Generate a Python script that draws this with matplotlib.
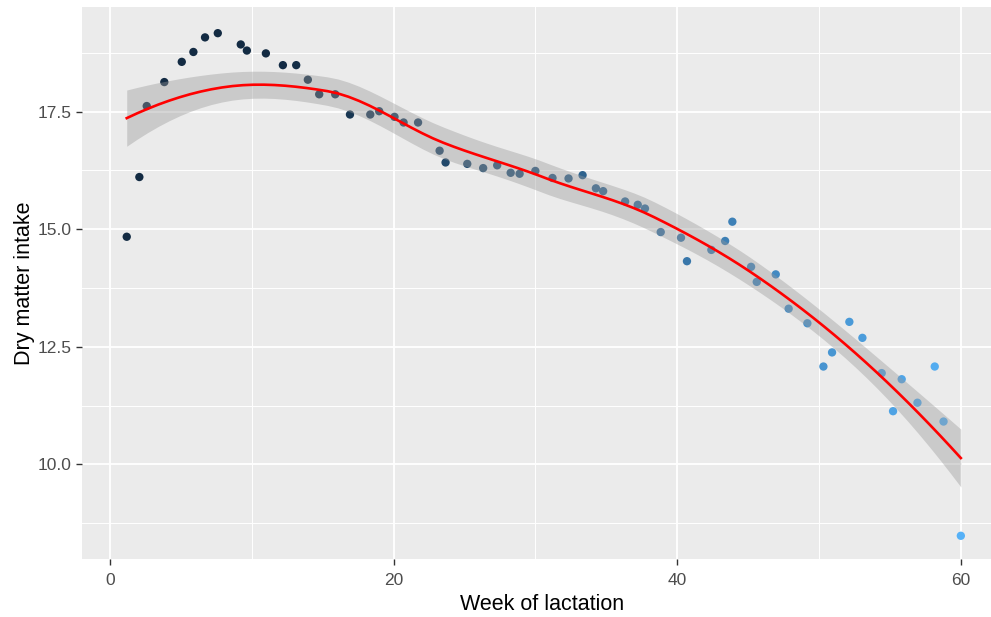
import numpy as np
import matplotlib
matplotlib.use("Agg")
import matplotlib.pyplot as plt
from matplotlib.colors import ListedColormap, Normalize

# Weekly mean dry matter intake over the lactation
week = [1.18, 2.07, 2.59, 3.83, 5.06, 5.88, 6.70, 7.60, 9.22, 9.65,
        10.99, 12.19, 13.13, 13.95, 14.75, 15.88, 16.92, 18.35, 18.98, 20.06,
        20.70, 21.72, 23.24, 23.66, 25.19, 26.31, 27.30, 28.25, 28.88, 29.99,
        31.20, 32.33, 33.32, 34.26, 34.77, 36.32, 37.21, 37.72, 38.83, 40.26,
        40.68, 42.40, 43.37, 43.88, 45.20, 45.60, 46.94, 47.85, 49.17, 50.30,
        50.91, 52.13, 53.05, 54.41, 55.21, 55.82, 56.93, 58.15, 58.77, 59.99]
dmi = [14.84, 16.11, 17.62, 18.13, 18.56, 18.77, 19.08, 19.17, 18.93, 18.80,
       18.74, 18.49, 18.49, 18.18, 17.87, 17.87, 17.44, 17.44, 17.51, 17.39,
       17.27, 17.27, 16.67, 16.42, 16.39, 16.30, 16.36, 16.20, 16.18, 16.24,
       16.09, 16.08, 16.15, 15.87, 15.81, 15.59, 15.52, 15.44, 14.94, 14.82,
       14.32, 14.56, 14.75, 15.16, 14.20, 13.88, 14.04, 13.31, 13.00, 12.08,
       12.38, 13.03, 12.69, 11.94, 11.13, 11.81, 11.31, 12.08, 10.91, 8.48]

x_major = [0, 20, 40, 60]
x_minor = [10, 30, 50]
y_major = [10.0, 12.5, 15.0, 17.5]
y_minor = [8.75, 11.25, 13.75, 16.25, 18.75]

x = np.asarray(week, dtype=float)
y = np.asarray(dmi, dtype=float)

SPAN = 0.75


def local_quadratic(xd, xq, span=SPAN):
    """Value and slope operators of the tricube-weighted local quadratic fit."""
    n = len(xd)
    q = int(np.floor(n * span))
    vals, slopes = [], []
    for x0 in np.atleast_1d(xq):
        d = np.abs(xd - x0)
        h = np.sort(d)[q - 1]
        u = np.clip(d / h, 0, 1)
        w = (1 - u ** 3) ** 3
        X = np.column_stack([np.ones(n), xd - x0, (xd - x0) ** 2])
        XtW = X.T * w
        op = np.linalg.solve(XtW @ X, XtW)
        vals.append(op[0])
        slopes.append(op[1])
    return np.array(vals), np.array(slopes)


def kd_vertices(xd, span=SPAN, cell=0.2):
    """Cell boundaries of the 1-D k-d tree used for interpolated loess surfaces."""
    n = len(xd)
    fc = int(np.floor(n * span * cell))
    srt = np.sort(xd)
    lo, hi = srt[0], srt[-1]
    mu = 0.005 * (hi - lo)
    verts = [lo - mu, hi + mu]

    def split(pts):
        if len(pts) <= fc:
            return
        m = (len(pts) + 1) // 2
        verts.append(0.5 * (pts[m - 1] + pts[m]))
        split(pts[:m])
        split(pts[m:])

    split(srt)
    return np.array(sorted(verts))


def interpolated_operator(xd, xq):
    verts = kd_vertices(xd)
    V, S = local_quadratic(xd, verts)
    rows = []
    for q in np.atleast_1d(xq):
        i = int(np.clip(np.searchsorted(verts, q, side="right") - 1, 0, len(verts) - 2))
        h = verts[i + 1] - verts[i]
        t = (q - verts[i]) / h
        h00 = 2 * t ** 3 - 3 * t ** 2 + 1
        h10 = t ** 3 - 2 * t ** 2 + t
        h01 = -2 * t ** 3 + 3 * t ** 2
        h11 = t ** 3 - t ** 2
        rows.append(h00 * V[i] + h10 * h * S[i] + h01 * V[i + 1] + h11 * h * S[i + 1])
    return np.array(rows)


# Smooth with 95% confidence band
L_data = interpolated_operator(x, x)
resid = y - L_data @ y
M = np.eye(len(x)) - L_data
MtM = M.T @ M
delta1 = np.trace(MtM)
delta2 = np.trace(MtM @ MtM)
sigma = np.sqrt(np.sum(resid ** 2) / delta1)
df = delta1 ** 2 / delta2
z = 1.959963985
tq = z + (z ** 3 + z) / (4 * df) + (5 * z ** 5 + 16 * z ** 3 + 3 * z) / (96 * df ** 2)

xs = np.linspace(x.min(), x.max(), 80)
L_grid = interpolated_operator(x, xs)
fit = L_grid @ y
se = sigma * np.sqrt(np.sum(L_grid ** 2, axis=1))
lo, hi = fit - tq * se, fit + tq * se


# Lab-space gradient from dark navy to light blue
_M = np.array([[0.4124564, 0.3575761, 0.1804375],
               [0.2126729, 0.7151522, 0.0721750],
               [0.0193339, 0.1191920, 0.9503041]])
_WHITE = np.array([0.95047, 1.0, 1.08883])


def _srgb_to_lab(rgb):
    c = np.asarray(rgb, dtype=float)
    lin = np.where(c <= 0.04045, c / 12.92, ((c + 0.055) / 1.055) ** 2.4)
    xyz = _M @ lin / _WHITE
    e = 6 / 29
    f = np.where(xyz > e ** 3, np.cbrt(xyz), xyz / (3 * e ** 2) + 4 / 29)
    return np.array([116 * f[1] - 16, 500 * (f[0] - f[1]), 200 * (f[1] - f[2])])


def _lab_to_srgb(lab):
    L, a, b = lab
    fy = (L + 16) / 116
    f = np.array([fy + a / 500, fy, fy - b / 200])
    e = 6 / 29
    xyz = np.where(f > e, f ** 3, 3 * e ** 2 * (f - 4 / 29)) * _WHITE
    lin = np.clip(np.linalg.solve(_M, xyz), 0, 1)
    c = np.where(lin <= 0.0031308, 12.92 * lin, 1.055 * lin ** (1 / 2.4) - 0.055)
    return np.clip(c, 0, 1)


lab_lo = _srgb_to_lab(matplotlib.colors.to_rgb("#132B43"))
lab_hi = _srgb_to_lab(matplotlib.colors.to_rgb("#56B1F7"))
grad = [_lab_to_srgb(lab_lo + t * (lab_hi - lab_lo)) for t in np.linspace(0, 1, 256)]
cmap = ListedColormap(grad)
norm = Normalize(vmin=12, vmax=60, clip=True)

plt.rcParams["font.family"] = ["Liberation Sans", "DejaVu Sans"]

W, H = 991, 617
fig = plt.figure(figsize=(W / 100, H / 100), dpi=100)
fig.patch.set_facecolor("white")

xlim = (-2.0, 62.9)
ylim = (7.98, 19.72)
px_per_x = 14.183
x0_px = 110.0
left_px = x0_px + xlim[0] * px_per_x
right_px = x0_px + xlim[1] * px_per_x
top_px, bottom_px = 7.3, 559.3
ax = fig.add_axes([left_px / W, 1 - bottom_px / H,
                   (right_px - left_px) / W, (bottom_px - top_px) / H])
ax.set_facecolor("#EBEBEB")
ax.set_xlim(*xlim)
ax.set_ylim(*ylim)

ax.set_xticks(x_major)
ax.set_xticklabels([str(v) for v in x_major])
ax.set_xticks(x_minor, minor=True)
ax.set_yticks(y_major)
ax.set_yticklabels([f"{v:.1f}" for v in y_major])
ax.set_yticks(y_minor, minor=True)

ax.grid(True, which="major", color="white", linewidth=1.3)
ax.grid(True, which="minor", color="white", linewidth=0.7)
ax.set_axisbelow(True)
for s in ax.spines.values():
    s.set_visible(False)

ax.tick_params(which="major", length=4.0, width=1.0, color="#333333",
               labelcolor="#4D4D4D", labelsize=12.5)
ax.tick_params(axis="x", which="major", pad=6.0)
ax.tick_params(axis="y", which="major", pad=3.5)
ax.tick_params(which="minor", length=0)

ax.scatter(x, y, c=x, cmap=cmap, norm=norm, s=36, linewidths=0, zorder=2)
ax.fill_between(xs, lo, hi, color="#999999", alpha=0.4, linewidth=0, zorder=3)
ax.plot(xs, fit, color="red", linewidth=1.9, zorder=4)

ax.set_xlabel("Week of lactation", fontsize=15.5, color="black", labelpad=4)
ax.set_ylabel("Dry matter intake", fontsize=15.5, color="black", labelpad=1.5)

fig.savefig("out.png", dpi=100, facecolor="white")
